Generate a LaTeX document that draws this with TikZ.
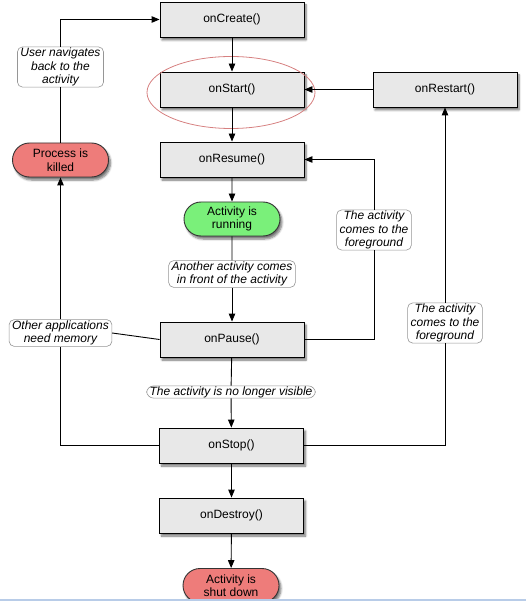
\documentclass[tikz,border=0pt]{standalone}
\usepackage{fontspec}
\setmainfont{Liberation Sans}
\usetikzlibrary{arrows.meta,shadows.blur,shapes.misc}
\definecolor{boxgray}{RGB}{232,232,232}
\definecolor{rungreen}{RGB}{122,240,122}
\definecolor{killred}{RGB}{238,124,122}
\definecolor{labgray}{RGB}{150,150,150}
\definecolor{ellred}{RGB}{214,128,128}
\definecolor{pageblue}{RGB}{184,204,232}
\begin{document}
\begin{tikzpicture}[x=1pt,y=-1pt,
  font=\fontsize{12}{13.5}\selectfont,
  method/.style={draw=black, line width=0.9pt, fill=boxgray, minimum width=144pt, minimum height=35pt, inner sep=0pt,
     blur shadow={shadow xshift=2pt, shadow yshift=-3pt, shadow blur steps=6, shadow opacity=55}},
  statebox/.style={draw=black!80, line width=0.9pt, rounded rectangle, minimum width=96pt, minimum height=34pt, inner sep=0pt, align=center,
     blur shadow={shadow xshift=2pt, shadow yshift=-3pt, shadow blur steps=6, shadow opacity=55}},
  note/.style={draw=labgray, line width=0.6pt, fill=white, rounded corners=5pt, align=center, inner xsep=3pt, inner ysep=1pt, font=\fontsize{12}{13.5}\selectfont\itshape},
  conn/.style={draw=black, line width=0.9pt},
  arr/.style={conn, -{Triangle[length=8pt,width=6.5pt]}}
]
\useasboundingbox (0,0) rectangle (526,601);
\begin{scope}
\clip (0,0) rectangle (526,601);
% method boxes
\node[method] (create)  at (232,19.5)  {onCreate()};
\node[method] (start)   at (232,89.5)  {onStart()};
\node[method] (resume)  at (232,159.5) {onResume()};
\node[method] (pause)   at (232,339.5) {onPause()};
\node[method] (stop)    at (231.5,445.5) {onStop()};
\node[method] (destroy) at (231.5,515.5) {onDestroy()};
\node[method] (restart) at (445,89.5)  {onRestart()};
% states
\node[statebox, fill=rungreen] (running) at (232,219) {Activity is\\running};
\node[statebox, fill=killred] (killed) at (60.5,160) {Process is\\killed};
\node[statebox, fill=killred] (shut) at (231,585.5) {Activity is\\shut down};
% notes
\node[note] (nuser)  at (60.5,67)  {User navigates\\back to the\\activity};
\node[note] (nother) at (232,274)  {Another activity comes\\in front of the activity};
\node[note, rounded corners=7pt, inner ysep=0.5pt] (nvis) at (231,392) {The activity is no longer visible};
\node[note] (nmem)   at (60.5,333) {Other applications\\need memory};
\node[note] (nfg1)   at (374,230)  {The activity\\comes to the\\foreground};
\node[note] (nfg2)   at (445,323)  {The activity\\comes to the\\foreground};
% red ellipse
\draw[ellred, line width=0.8pt] (231,92.5) ellipse (84pt and 36pt);
% connectors
\draw[arr] (create) -- (start);
\draw[arr] (start) -- (resume);
\draw[arr] (resume) -- (running);
\draw[conn] (running) -- (nother);
\draw[arr] (nother) -- (pause);
\draw[conn] (pause) -- (nvis);
\draw[arr] (nvis) -- (stop);
\draw[arr] (stop) -- (destroy);
\draw[arr] (destroy) -- (shut);
\draw[arr] (restart) -- (start);
\draw[conn] (pause.east) -| (nfg1.south);
\draw[arr] (nfg1.north) |- (resume.east);
\draw[conn] (stop.east) -| (nfg2.south);
\draw[arr] (nfg2.north) -- (restart.south);
\draw[conn] (pause.west) -- (nmem.east);
\draw[conn] (stop.west) -| (nmem.south);
\draw[arr] (nmem.north) -- (killed.south);
\draw[conn] (killed.north) -- (nuser.south);
\draw[arr] (nuser.north) |- (create.west);
% page edge line
\fill[pageblue] (0,598.5) rectangle (526,601);
\end{scope}
\end{tikzpicture}
\end{document}
